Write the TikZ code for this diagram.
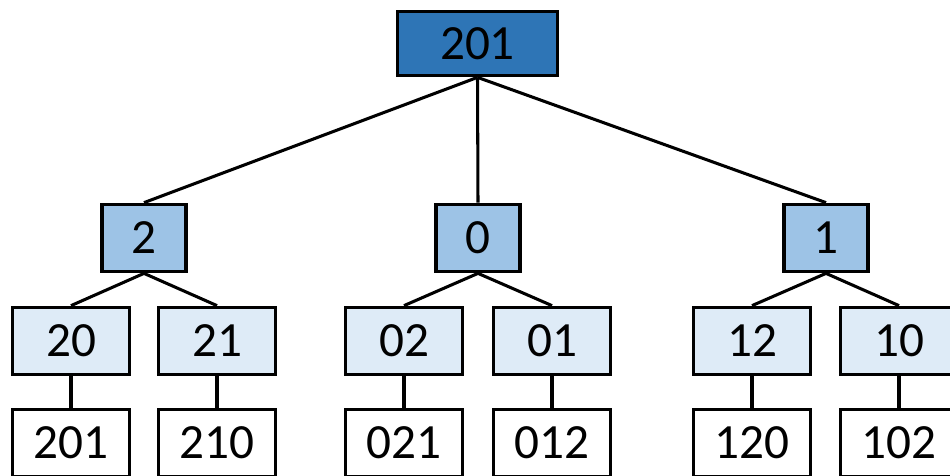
\documentclass[tikz,border=0pt]{standalone}
\usepackage{fontspec}
\setmainfont{Carlito}
\usetikzlibrary{calc}

\definecolor{temna}{HTML}{2E75B6}
\definecolor{srednja}{HTML}{9DC3E6}
\definecolor{svetla}{HTML}{DEEBF7}

\begin{document}
\begin{tikzpicture}[x=0.03cm, y=-0.03cm, line width=2.6pt,
  skatla/.style={draw, line width=2.9pt, inner sep=0pt, font=\fontsize{42}{44}\selectfont},
  koren/.style={skatla, fill=temna, minimum width=4.8cm, minimum height=1.93cm},
  prvi/.style={skatla, fill=srednja, minimum width=2.53cm, minimum height=2.02cm},
  drugi/.style={skatla, fill=svetla, minimum width=3.52cm, minimum height=2.02cm},
  tretji/.style={skatla, fill=white, minimum width=3.52cm, minimum height=2.02cm}]
\useasboundingbox (0,0) rectangle (950,476);
\clip (0,0) rectangle (950,476);
\node[koren] (r) at (477.5,43.5) {201};
\foreach \x/\t [count=\i from 0] in {144/2, 478/0, 826/1} {
  \node[prvi] (a_\i) at (\x,238) {\t};
  \draw (r.south) -- (a_\i.north);
}
\foreach \x/\t/\u/\p [count=\i from 0] in {71/20/201/0, 217/21/210/0, 404/02/021/1, 552/01/012/1, 752/12/120/2, 899/10/102/2} {
  \node[drugi] (b_\i) at (\x,341) {\t};
  \node[tretji] (c_\i) at (\x,443) {\u};
  \draw (a_\p.south) -- (b_\i.north);
  \draw (b_\i.south) -- (c_\i.north);
}
\end{tikzpicture}
\end{document}
